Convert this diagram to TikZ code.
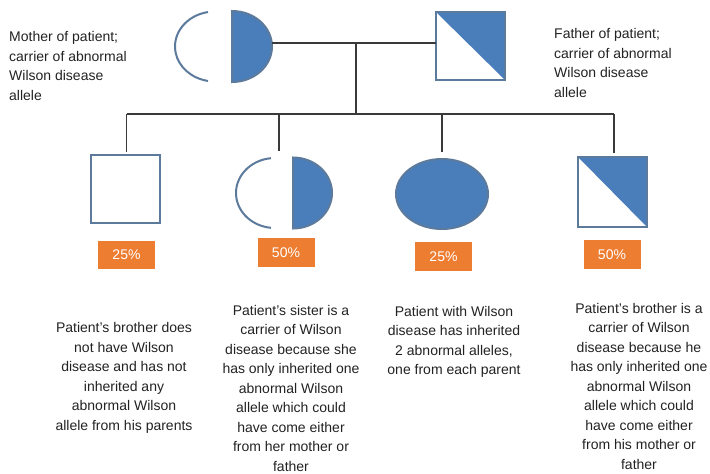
\documentclass[tikz,border=0pt]{standalone}
\usepackage{fontspec}
\setmainfont{Liberation Sans}
\usetikzlibrary{shapes.geometric}
\definecolor{pblue}{HTML}{4A7EBB}
\definecolor{pline}{HTML}{5C7A9C}
\definecolor{porange}{HTML}{ED7D31}
\definecolor{ptext}{HTML}{222222}
\definecolor{conn}{HTML}{3A3A3A}
\begin{document}
\begin{tikzpicture}[x=1pt,y=-1pt,
  shapeline/.style={draw=pline,line width=2pt},
  sq/.style={shapeline,minimum width=69pt,minimum height=68pt,inner sep=0pt,outer sep=0pt},
  link/.style={draw=conn,line width=1.3pt},
  pct/.style={fill=porange,text=white,minimum width=57pt,minimum height=28.5pt,inner sep=0pt,font=\fontsize{14}{17}\selectfont},
  lbl/.style={text=ptext,inner sep=0pt,font=\fontsize{14}{19.5}\selectfont},
  note/.style={lbl,align=center}]
\useasboundingbox (0,0) rectangle (710,474);

% ---- parents ----
% mother (carrier female)
\draw[shapeline] ([shift={(100:40pt and 35pt)}]215,46.5) arc[start angle=100,end angle=260,x radius=40pt,y radius=35pt];
\draw[shapeline,fill=pblue] (232,11) arc[start angle=90,end angle=-90,x radius=40pt,y radius=35.5pt] -- cycle;
\coordinate (mR) at (272,43);
% father (carrier male)
\node[sq] (fa) at (470.5,46) {};
\fill[pblue] (fa.north west) -- (fa.north east) -- (fa.south east) -- cycle;
\draw[shapeline] (fa.north west) rectangle (fa.south east);

% ---- children ----
\node[sq] (c1) at (125.5,188.5) {};
\draw[shapeline] ([shift={(96:39pt and 35pt)}]275,193) arc[start angle=96,end angle=264,x radius=39pt,y radius=35pt];
\draw[shapeline,fill=pblue] (293,157.5) arc[start angle=90,end angle=-90,x radius=39pt,y radius=35.5pt] -- cycle;
\node[shapeline,fill=pblue,ellipse,minimum width=92pt,minimum height=70pt,inner sep=0pt] (c3) at (442,194) {};
\node[sq,minimum height=70pt] (c4) at (612.5,192) {};
\fill[pblue] (c4.north west) -- (c4.north east) -- (c4.south east) -- cycle;
\draw[shapeline] (c4.north west) rectangle (c4.south east);

% ---- connectors ----
\coordinate (mid) at (356,43);
\coordinate (bar) at (356,114);
\coordinate (b1) at (126.5,114);
\coordinate (b2) at (279,114);
\coordinate (b3) at (442,114);
\coordinate (b4) at (614,114);
\coordinate (t1) at (126.5,152);
\coordinate (t2) at (279,151);
\coordinate (t3) at (442,152);
\coordinate (t4) at (614,153);
\draw[link] (mR) -- (mR -| fa.west);
\draw[link] (mid) -- (bar);
\draw[link] (b1) -- (b4);
\draw[link] (b1) -- (t1);
\draw[link] (b2) -- (t2);
\draw[link] (b3) -- (t3);
\draw[link] (b4) -- (t4);

% ---- percentages ----
\node[pct] (p1) at (126.5,255) {25\%};
\node[pct] (p2) at (286,252.5) {50\%};
\node[pct] (p3) at (443.5,256.5) {25\%};
\node[pct] (p4) at (612,254.5) {50\%};

% ---- labels ----
\node[lbl,align=left,anchor=west] (lm) at (9,66) {Mother of patient;\\carrier of abnormal\\Wilson disease\\allele};
\node[lbl,align=left,anchor=west] (lf) at (554,63) {Father of patient;\\carrier of abnormal\\Wilson disease\\allele};

\node[note] (n1) at (124,378) {Patient's brother does\\not have Wilson\\disease and has not\\inherited any\\abnormal Wilson\\allele from his parents};
\node[note] (n2) at (291,388) {Patient's sister is a\\carrier of Wilson\\disease because she\\has only inherited one\\abnormal Wilson\\allele which could\\have come either\\from her mother or\\father};
\node[note] (n3) at (454,342) {Patient with Wilson\\disease has inherited\\2 abnormal alleles,\\one from each parent};
\node[note] (n4) at (639,386) {Patient's brother is a\\carrier of Wilson\\disease because he\\has only inherited one\\abnormal Wilson\\allele which could\\have come either\\from his mother or\\father};
\end{tikzpicture}
\end{document}
